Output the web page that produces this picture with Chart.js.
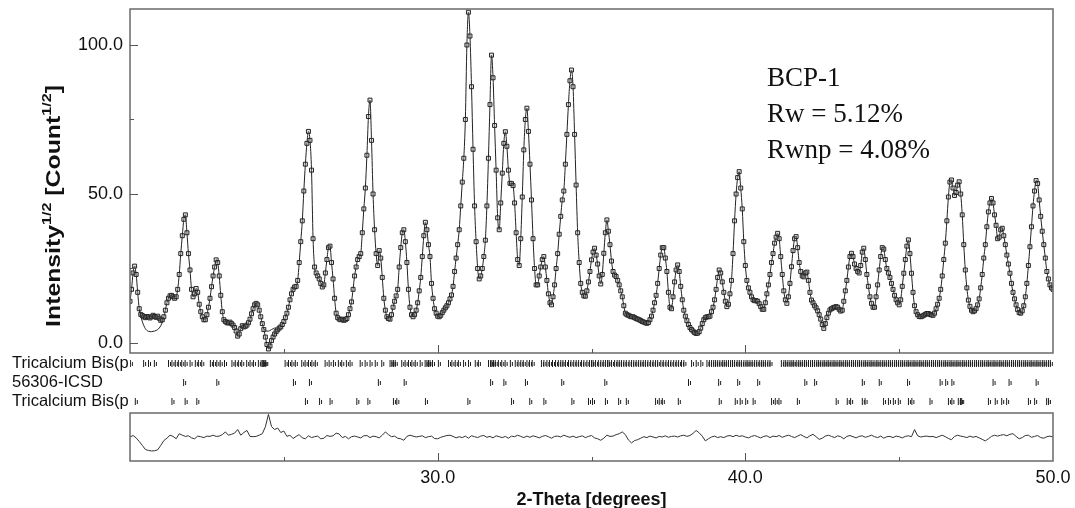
<!DOCTYPE html>
<html>
<head>
<meta charset="utf-8">
<title>BCP-1 Rietveld plot</title>
<script src="https://cdn.jsdelivr.net/npm/chart.js@4.4.1/dist/chart.umd.min.js"></script>
<style>
  html, body { margin: 0; padding: 0; background: #fff; }
  #wrap { width: 1075px; height: 508px; }
</style>
</head>
<body>
<div id="wrap"><canvas id="xrd" width="1075" height="508"></canvas></div>
<script>
// observed profile, sqrt(counts), 20.00 .. 50.00 deg in 0.05 deg steps
const thetaStart = 20.0;
const thetaStep = 0.05;
const observed = [
  14, 18, 23.5, 25.8, 23, 17, 11.5, 9.6, 9.2, 8.8, 8.5, 8.9, 8.7, 8.4, 8.8, 9.3, 8.9, 8.6, 9.0, 8.3,
  7.6, 7.8, 8.8, 11, 13.5, 15, 15.8, 16, 15.5, 15, 15.5, 18, 23, 30, 36, 41.5, 43, 37, 30, 24.5,
  18, 15.5, 16.5, 18.3, 17, 13, 10.5, 8.8, 7.8, 7.8, 9.5, 12, 15, 18.9, 22.5, 25.5, 27.9, 27, 22.5, 16,
  10.5, 7.8, 7.2, 6.8, 6.7, 7, 6.5, 6, 5.2, 4, 2.3, 3, 4.8, 5.8, 5.4, 5.6, 6, 6.8, 8, 9.8,
  11.5, 12.8, 13.3, 12.8, 11, 8.8, 6.5, 4.5, 2, -0.5, -2, -1, 0.8, 2, 3, 3.8, 4.4, 5, 5.4, 6.2,
  7.2, 8.5, 10, 12, 14.5, 16.5, 18, 18.8, 19, 21, 27, 34, 41, 51, 60, 67, 71, 68, 58, 35,
  25.5, 23.5, 22.5, 21.5, 20, 18.8, 19.5, 23.5, 28, 32, 32.5, 27, 21.5, 15, 10, 8.5, 8, 7.8, 8, 7.6,
  7.8, 8.2, 9.5, 11.5, 13.8, 18, 22.5, 25.5, 28, 29, 30, 37, 45, 52, 63, 76, 81.5, 68, 50, 38,
  30, 26, 31, 28.5, 22, 15, 11, 8.8, 8.2, 8, 9.5, 12, 14, 15.8, 18, 25.5, 32, 37, 38, 34,
  27, 18, 12, 9.5, 8.8, 9.5, 11, 13.5, 17.5, 22, 29, 36, 40.5, 38, 33, 29, 20, 15, 11.5, 10,
  9, 8.8, 9.3, 10.2, 11, 11.8, 12.5, 13.5, 14.8, 16.1, 19, 24, 28.5, 33, 38, 46, 54, 62, 75, 100,
  111, 103, 86, 65, 46, 34, 25, 21.5, 22.5, 25, 29, 34.5, 46, 62, 80, 96.6, 89, 73, 58, 42,
  38, 47, 57, 67, 70.9, 66, 58, 53.6, 53.5, 52.8, 47, 37, 28, 26, 35, 49, 64.8, 75, 78.8, 71,
  60, 48, 35, 25, 19.5, 19.5, 22.5, 25.5, 28, 29, 25.5, 21, 16.5, 13.5, 12.8, 15.5, 19.5, 25, 30, 36.5,
  42.5, 48, 51, 60, 70, 80, 88, 91.6, 86, 70, 53, 37, 27, 20, 17, 15.8, 15.7, 17.5, 20.5, 24,
  27.9, 30.5, 31.8, 29.5, 26.5, 22.5, 19.8, 23, 30.1, 37, 41.3, 37.5, 33, 27.5, 24, 22.8, 22.3, 21, 19.5, 17.5,
  15.5, 12.5, 10, 9.5, 9.3, 9, 8.8, 8.8, 8.5, 8.2, 8, 7.8, 7.5, 7.2, 7, 6.8, 6.6, 6.9, 7.8, 9,
  11, 13.5, 16, 20, 25, 29.5, 32, 32, 28.5, 24, 17, 12, 11.5, 15.5, 20.5, 24.5, 26.2, 24, 19, 14.5,
  11, 9, 7.5, 6.2, 5.2, 4.5, 4, 3.5, 3.2, 3.3, 3.8, 5, 6.5, 7.8, 8.5, 8.8, 8.8, 9, 10.5, 12,
  14.5, 18, 22, 24.5, 23.5, 20.5, 17, 14, 12.2, 13, 16.5, 21, 30, 41, 50, 55.5, 57.5, 52, 45, 34,
  26, 21, 18.5, 17, 15.5, 14.5, 14.2, 14.2, 14, 13.2, 12.2, 11.3, 11.3, 13.5, 16.5, 19.5, 23, 27, 30, 33.5,
  35.5, 36.8, 35, 29, 23, 17.5, 14.5, 13.3, 15.5, 20, 25.6, 31, 35, 35.7, 32, 27, 24, 22.5, 22.2, 23.5,
  23.8, 21, 17, 14.4, 13.5, 12.5, 11.8, 10.8, 9.5, 8, 6.2, 4.9, 6.5, 8.5, 10, 11.1, 11.5, 11.8, 12, 12.2,
  12, 11.3, 10.7, 11, 14, 17.5, 21, 25.5, 29, 30.1, 29, 26.5, 25, 24, 23.5, 26, 30.5, 31.8, 28, 23,
  19, 15.5, 13.3, 12, 12, 15.5, 19.5, 24.5, 29, 32, 31.5, 28, 25, 23.5, 22, 20, 18, 16, 14.5, 13.5,
  12.8, 14.5, 19, 23.4, 28, 32.5, 34.6, 30, 23.4, 17, 12.5, 10.5, 9.5, 8.9, 8.8, 9, 9.3, 9.6, 9.9, 9.9,
  9.6, 9.4, 9.3, 10, 11.5, 13, 15, 18, 22.5, 28, 33.5, 41, 49, 54, 54.7, 52, 49.5, 50.5, 53, 54.1,
  50, 43, 33, 24.5, 18.5, 14.4, 12.3, 11, 10.5, 10.8, 11.5, 12.8, 14.8, 18.5, 23, 28.5, 33, 39, 44, 47,
  48.5, 47, 43, 39.5, 35, 35.5, 38, 38.5, 36, 33, 29.5, 26.5, 23.4, 20, 17, 14.8, 12.8, 11.2, 10.2, 10,
  10.8, 12.5, 15.5, 20, 26, 32.3, 39, 46, 51, 54.5, 53.5, 48, 42.5, 37.5, 33, 28.5, 24, 21.5, 19.5, 18.5,
  18
];

// calculated curve where it visibly leaves the observed points
const calcTheta = [20.30, 20.35, 20.40, 20.45, 20.50, 20.55, 20.60, 20.65, 20.70, 20.75, 20.80, 20.85,
  20.90, 20.95, 21.00, 21.05, 21.10, null,
  24.35, 24.40, 24.45, 24.50, 24.55, 24.60, 24.65, 24.70, 24.75];
const calcValues = [11.3, 9.0, 7.2, 5.8, 4.8, 4.2, 3.9, 3.8, 3.8, 3.9, 4.0, 4.2,
  4.5, 5.0, 5.8, 7.0, 8.6, null,
  4.8, 4.3, 4.0, 4.0, 4.2, 4.5, 4.8, 5.0, 5.0];

// difference curve, 20.0 .. 50.0 deg in 0.1 deg steps
const diffStep = 0.1;
const difference = [
  0, 0.5, -0.3, -1.5, -2.8, -4.2, -4.5, -4.7, -4.6, -4.3,
  -2.8, -1.2, -0.4, 0.6, 0.2, -0.6, 1.1, 0.6, 0.2, 0.4,
  -0.3, -0.6, 0.3, 0.1, -0.2, 0.3, 0.2, 0.6, 0.2, 0.3,
  0.8, 1.7, 0.6, 0.9, 1.3, 2.5, 0.6, 1.5, 2.2, 0.2,
  0.1, 0.2, 0.6, 1.1, 3.4, 7.6, 3.5, 2.5, 3.0, 1.5,
  2.0, 0.2, 0.6, -0.5, 0.2, 0.8, -0.3, -0.6, 0.4, -0.2,
  0.1, 0.3, -0.6, -0.4, 0.5, 0.2, 0.4, 1.3, 1.0, -0.2,
  0.2, -0.6, 0.1, 0.3, 0, -0.3, 0.4, 0.5, -0.2, 0.3,
  0.1, -0.3, 0.6, 1.7, 0.8, 0.1, 0.3, -0.4, -0.6, -1.1,
  0.2, 0.6, 0.3, 0, 0.2, 0.4, -0.2, 0.1, 0.3, -0.5,
  -0.6, -0.1, 0.2, 0.5, 0.6, 0.2, -0.3, 0.1, -0.2, 0.3,
  -0.4, 0.4, 0.1, -0.2, 0.3, 0.5, -0.1, 0.2, -0.3, 0.4,
  0.1, -0.2, 0.2, -0.4, 0.3, 0.1, 0.6, 0.2, -0.2, 0.3,
  -0.1, 0.4, 0.1, -0.3, 0.2, 0.5, 0.1, -0.4, 0.2, 0.3,
  0, 0.6, 0.2, -0.1, 0.3, -0.2, 0.1, 0.4, -0.2, 0.2,
  0.5, -0.3, -0.6, -1.1, -0.4, 0.6, 0.2, 0.3, 0.8, 1.1,
  1.7, 0.8, -1.0, -2.0, -1.2, -0.9, -0.4, 0.1, -0.2, 0.3,
  0, -0.3, 0.2, 0, 0.4, -0.1, 0.2, 0.3, 0, 0.4,
  0.6, 0.2, 0.5, 1.2, 2.2, 1.4, 0.3, -1.3, -0.6, 0,
  0.3, -0.2, 0.1, -0.2, 0.3, 0.5, 0.1, 0.6, 0.2, 0.4,
  0, -0.3, 0.2, 0.5, 0.1, -0.3, 0.2, 0.4, -0.2, 0.3,
  0.1, 0.5, -0.1, 0.3, 0.6, 0.2, -0.2, 0.3, 0.8, 0.2,
  -0.3, 0.4, 0.9, 0.1, -0.8, -0.4, 0.3, 0.6, 0.2, -0.2,
  0.4, 0.1, -0.6, 0.2, 0.5, 0.1, -0.3, 0.2, 0.4, -0.1,
  0.2, 0.6, 0.1, -0.2, 0.3, -0.4, 0.1, 0.2, -0.2, 0.3,
  0.1, -0.3, 0.2, 0.4, 0.1, 2.5, 0.4, 0, 0.2, 0.3,
  0.1, 0.2, -0.2, 0.2, 0.6, 0.1, -0.5, -0.9, 0.2, 0.6,
  0.3, 0.1, -0.2, 0.3, -0.1, 0.2, -0.3, -0.8, -1.3, -0.6,
  0.2, 0.6, 0.3, 0.6, 0.8, 0.4, 0.9, 1.1, 0.2, -0.6,
  -0.2, 0.5, 0.6, -0.1, 0.2, 0.5, -0.2, -0.4, 0.1, 0.3,
  0
];

// reflection positions (2-theta) of the three phases
const phaseNames = ['Tricalcium Bis(p', '56306-ICSD', 'Tricalcium Bis(p'];
const phase1Peaks = [20.06, 20.49, 20.65, 20.84, 21.3, 21.41, 21.52, 21.62, 21.73, 21.84, 22.0, 22.17,
  22.27, 22.38, 22.66, 22.76, 22.87, 22.98, 23.12, 23.36, 23.47, 23.57, 23.68, 23.84, 23.95, 24.06,
  24.22, 24.31, 24.36, 24.39, 24.43, 24.46, 25.09, 25.2, 25.31, 25.42, 25.63, 25.74, 25.85, 25.96,
  26.07, 26.39, 26.52, 26.66, 26.82, 26.93, 27.08, 27.2, 27.53, 27.69, 27.85, 28.02, 28.23, 28.5,
  28.56, 28.61, 28.67, 28.88, 28.99, 29.1, 29.21, 29.32, 29.48, 29.64, 29.7, 29.75, 29.8, 29.88,
  30.07, 30.4, 30.51, 30.62, 30.72, 30.89, 31.05, 31.27, 31.37, 31.7, 31.77, 31.81, 31.86, 31.92,
  32.02, 32.13, 32.24, 32.41, 32.57, 32.66, 32.75, 32.83, 32.95, 33.03, 33.12, 33.42, 33.5, 33.6,
  33.68, 33.78, 33.88, 33.97, 34.05, 34.12, 34.2, 34.3, 34.38, 34.47, 34.55, 34.63, 34.72, 34.8,
  34.9, 34.98, 35.05, 35.1, 35.18, 35.27, 35.35, 35.43, 35.5, 35.57, 35.62, 35.7, 35.8, 35.88,
  35.95, 36.02, 36.1, 36.18, 36.27, 36.35, 36.42, 36.5, 36.58, 36.65, 36.73, 36.8, 36.88, 36.97,
  37.05, 37.13, 37.2, 37.3, 37.38, 37.47, 37.55, 37.63, 37.72, 37.8, 37.88, 37.97, 38.05, 38.3,
  38.45, 38.6, 38.8, 38.88, 38.95, 39.02, 39.08, 39.15, 39.22, 39.3, 39.36, 39.43, 39.5, 39.57,
  39.63, 39.7, 39.78, 39.85, 39.92, 40.0, 40.07, 40.13, 40.2, 40.27, 40.35, 40.42, 40.5, 40.57,
  40.63, 40.7, 40.78, 40.85, 41.22, 41.3, 41.36, 41.43, 41.5, 41.56, 41.62, 41.7, 41.77, 41.83,
  41.9, 41.97, 42.03, 42.1, 42.17, 42.23, 42.3, 42.37, 42.43, 42.5, 42.57, 42.63, 42.7, 42.76,
  42.83, 42.9, 42.96, 43.03, 43.1, 43.16, 43.23, 43.3, 43.36, 43.43, 43.5, 43.56, 43.63, 43.7,
  43.76, 43.83, 43.9, 43.96, 44.03, 44.1, 44.16, 44.23, 44.3, 44.36, 44.43, 44.5, 44.56, 44.63,
  44.7, 44.76, 44.83, 44.9, 44.96, 45.03, 45.1, 45.16, 45.23, 45.3, 45.36, 45.43, 45.5, 45.56,
  45.63, 45.7, 45.76, 45.83, 45.9, 45.96, 46.03, 46.1, 46.16, 46.23, 46.3, 46.36, 46.43, 46.5,
  46.56, 46.63, 46.7, 46.76, 46.83, 46.9, 46.96, 47.03, 47.1, 47.16, 47.23, 47.3, 47.36, 47.43,
  47.5, 47.56, 47.63, 47.7, 47.76, 47.83, 47.9, 47.96, 48.03, 48.1, 48.16, 48.23, 48.3, 48.36,
  48.43, 48.5, 48.56, 48.63, 48.7, 48.76, 48.83, 48.9, 48.96, 49.03, 49.1, 49.16, 49.23, 49.3,
  49.36, 49.43, 49.5, 49.56, 49.63, 49.7, 49.76, 49.83, 49.9, 49.96];
const phase2Peaks = [21.79, 22.87, 25.36, 25.88, 28.12, 28.96, 31.77, 32.2, 32.9, 34.08, 35.48, 38.2,
  39.18, 39.8, 40.45, 41.98, 42.3, 43.85, 44.4, 45.32, 46.38, 46.56, 46.76, 48.1, 48.62, 49.5];
const phase3Peaks = [20.22, 21.41, 21.84, 22.22, 25.75, 26.21, 26.55, 27.42, 27.78, 28.61, 28.72, 29.65,
  31.03, 32.45, 33.04, 33.5, 34.41, 34.95, 35.08, 35.5, 35.93, 36.18, 37.13, 37.25, 37.35, 37.87,
  39.2, 39.72, 39.88, 40.06, 40.3, 40.9, 41.02, 41.14, 41.74, 43.0, 43.36, 43.47, 43.85, 43.94,
  44.54, 44.7, 44.86, 45.02, 45.35, 45.46, 46.05, 46.65, 46.76, 46.97, 47.04, 47.08, 47.95, 48.17,
  48.38, 48.54, 49.25, 49.45, 49.84, 49.9];

const intensityTicks = [0, 25, 50, 75, 100];
const intensityLabels = [0, 50, 100];
const thetaTicks = [25, 30, 35, 40, 45, 50];
const thetaLabels = [30, 40, 50];
const refinement = ['BCP-1', 'Rw = 5.12%', 'Rwnp = 4.08%'];

const sans = '"Liberation Sans", Arial, sans-serif';
const serif = '"Liberation Serif", "Times New Roman", serif';

const obsPoints = observed.map((v, i) => ({ x: +(thetaStart + i * thetaStep).toFixed(2), y: v }));
const calcPoints = calcTheta.map((t, i) => ({ x: t, y: calcValues[i] }));
const diffPoints = difference.map((v, i) => ({ x: +(thetaStart + i * diffStep).toFixed(1), y: v }));

// reflection marker: tall tick plus a short one (K-alpha 2) right beside it
function reflectionMark() {
  const c = document.createElement('canvas');
  c.width = 6; c.height = 10;
  const g = c.getContext('2d');
  g.fillStyle = '#1e1e1e';
  g.fillRect(1, 2, 1, 7);
  g.fillRect(3, 4, 1, 4);
  return c;
}
const mark = reflectionMark();

function phaseSet(peaks, row) {
  return {
    data: peaks.map(p => ({ x: p, y: row })),
    yAxisID: 'yb',
    showLine: false,
    pointStyle: mark,
    pointRadius: 3,
    pointHoverRadius: 3
  };
}

const frame = {
  id: 'frame',
  afterDraw(chart) {
    const { ctx, chartArea } = chart;
    const sx = chart.scales.x, sy = chart.scales.y, sd = chart.scales.yd;
    const left = chartArea.left, right = chartArea.right;
    ctx.save();

    // boxes round the profile and the difference curve
    ctx.strokeStyle = '#6a6a6a';
    ctx.lineWidth = 1.5;
    [sy, sd].forEach(s => ctx.strokeRect(left, s.top, right - left, s.bottom - s.top));

    // inward tick marks
    ctx.strokeStyle = '#555';
    ctx.lineWidth = 1;
    ctx.beginPath();
    sy.ticks.forEach(t => {
      const y = Math.round(sy.getPixelForValue(t.value)) + 0.5;
      const len = intensityLabels.includes(t.value) ? 8 : 4;
      ctx.moveTo(left, y); ctx.lineTo(left + len, y);
    });
    sx.ticks.forEach(t => {
      if (t.value >= sx.max) return;
      const x = Math.round(sx.getPixelForValue(t.value)) + 0.5;
      const len = thetaLabels.includes(t.value) ? 8 : 4;
      [sy.bottom, sd.bottom].forEach(b => { ctx.moveTo(x, b); ctx.lineTo(x, b - len); });
    });
    ctx.stroke();

    // axis titles
    ctx.fillStyle = '#111';
    ctx.textBaseline = 'alphabetic';
    ctx.font = 'bold 18px ' + sans;
    ctx.textAlign = 'center';
    ctx.fillText('2-Theta [degrees]', (left + right) / 2, 505);

    const parts = [['Intensity', false], ['1/2', true], [' [Count', false], ['1/2', true], [']', false]];
    const big = 'bold 20px ' + sans, small = 'bold 13px ' + sans;
    let total = 0;
    parts.forEach(([txt, sup]) => { ctx.font = sup ? small : big; total += ctx.measureText(txt).width; });
    ctx.translate(60, 206);
    ctx.rotate(-Math.PI / 2);
    ctx.scale(1.24, 1);
    ctx.textAlign = 'left';
    let px = -total / 2;
    parts.forEach(([txt, sup]) => {
      ctx.font = sup ? small : big;
      ctx.fillText(txt, px, sup ? -9 : 0);
      px += ctx.measureText(txt).width;
    });
    ctx.setTransform(1, 0, 0, 1, 0, 0);

    // refinement note
    ctx.font = '27px ' + serif;
    ctx.textAlign = 'left';
    refinement.forEach((line, i) => ctx.fillText(line, 767, 86 + i * 36));
    ctx.restore();
  }
};

new Chart(document.getElementById('xrd'), {
  type: 'line',
  data: {
    datasets: [
      {
        data: obsPoints,
        yAxisID: 'y',
        borderColor: '#222',
        borderWidth: 1,
        cubicInterpolationMode: 'monotone',
        pointStyle: 'rect',
        pointRadius: 2.8,
        pointBorderWidth: 1,
        pointBorderColor: '#262626',
        pointBackgroundColor: 'rgba(170,170,170,0.3)'
      },
      {
        data: calcPoints,
        yAxisID: 'y',
        borderColor: '#222',
        borderWidth: 1,
        pointRadius: 0,
        spanGaps: false,
        cubicInterpolationMode: 'monotone'
      },
      {
        data: diffPoints,
        yAxisID: 'yd',
        borderColor: '#333',
        borderWidth: 1,
        pointRadius: 0
      },
      phaseSet(phase1Peaks, 0),
      phaseSet(phase2Peaks, 1),
      phaseSet(phase3Peaks, 2)
    ]
  },
  options: {
    responsive: false,
    animation: false,
    devicePixelRatio: 1,
    layout: { padding: { left: 12, right: 22, top: 9, bottom: 0 } },
    plugins: { legend: { display: false }, tooltip: { enabled: false } },
    scales: {
      x: {
        type: 'linear',
        min: 20,
        max: 50,
        afterBuildTicks: s => { s.ticks = thetaTicks.map(v => ({ value: v })); },
        afterFit: s => { s.height = 47; s.paddingLeft = 0; s.paddingRight = 0; },
        grid: { display: false, drawTicks: false },
        border: { display: false },
        ticks: {
          autoSkip: false, maxRotation: 0, padding: 6, color: '#111',
          font: { family: sans, size: 18 },
          callback: v => thetaLabels.includes(v) ? v.toFixed(1) : ''
        }
      },
      yd: {
        type: 'linear', position: 'left', stack: 'xrd', stackWeight: 48, weight: 1,
        min: -8.05, max: 8.05,
        afterFit: s => { s.width = 118; s.paddingTop = 0; s.paddingBottom = 0; },
        grid: { display: false, drawTicks: false },
        border: { display: false },
        ticks: { display: false }
      },
      yb: {
        type: 'linear', position: 'left', stack: 'xrd', stackWeight: 60, weight: 2,
        reverse: true, min: -0.526, max: 2.632,
        afterBuildTicks: s => { s.ticks = phaseNames.map((n, i) => ({ value: i })); },
        afterFit: s => { s.width = 118; s.paddingTop = 0; s.paddingBottom = 0; },
        grid: { display: false, drawTicks: false },
        border: { display: false },
        ticks: {
          autoSkip: false, crossAlign: 'far', padding: 0, color: '#111',
          font: { family: sans, size: 16.5, lineHeight: 1 },
          callback: (v, i) => phaseNames[i]
        }
      },
      y: {
        type: 'linear', position: 'left', stack: 'xrd', stackWeight: 344, weight: 3,
        min: -3.36, max: 112.08,
        afterBuildTicks: s => { s.ticks = intensityTicks.map(v => ({ value: v })); },
        afterFit: s => { s.width = 118; s.paddingTop = 0; s.paddingBottom = 0; },
        grid: { display: false, drawTicks: false },
        border: { display: false },
        ticks: {
          autoSkip: false, padding: 7, color: '#111',
          font: { family: sans, size: 18 },
          callback: v => intensityLabels.includes(v) ? v.toFixed(1) : ''
        }
      }
    }
  },
  plugins: [frame]
});
</script>
</body>
</html>
